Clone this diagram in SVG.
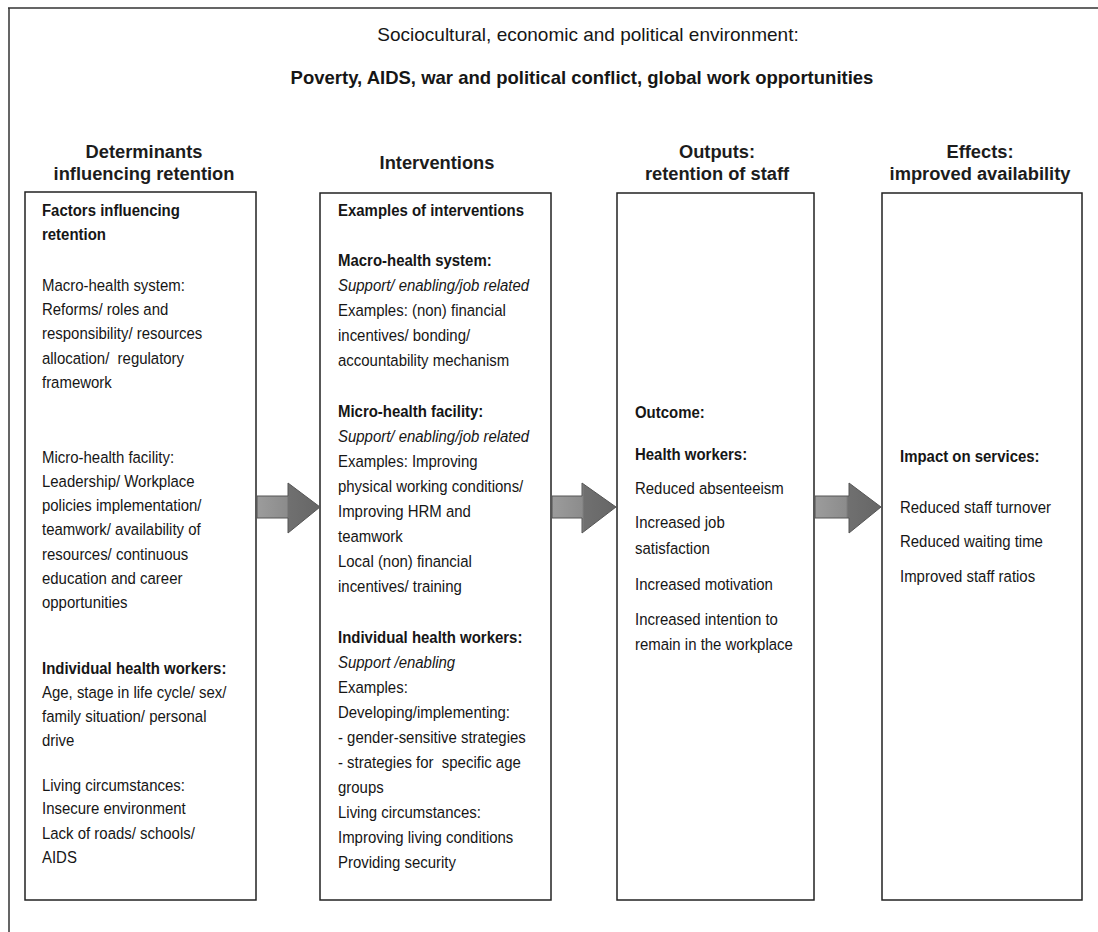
<svg xmlns="http://www.w3.org/2000/svg" width="1098" height="932" viewBox="0 0 1098 932">
<style>
.t{font-family:"Liberation Sans",Arial,sans-serif;font-size:17px;fill:#161616}
.b{font-weight:bold}
.i{font-style:italic}
.h{font-family:"Liberation Sans",Arial,sans-serif;font-size:18.3px;font-weight:bold;text-anchor:middle;fill:#1c1c1c}
.box{fill:none;stroke:#222;stroke-width:1.5}
.frame{fill:none;stroke:#333;stroke-width:1.5}
.arr{fill:url(#ag);stroke:#555;stroke-width:1}
</style>
<defs>
<linearGradient id="ag" x1="0" y1="0" x2="1" y2="0">
<stop offset="0" stop-color="#9c9c9c"/>
<stop offset="0.47" stop-color="#8c8c8c"/>
<stop offset="0.5" stop-color="#707070"/>
<stop offset="1" stop-color="#666"/>
</linearGradient>
</defs>
<rect width="1098" height="932" fill="#fff"/>
<g id="frame">
<path class="frame" d="M8,8 H1098 M9,8 V932"/>
</g>
<g id="environment">
<text class="t" x="588" y="41" style="font-size:19px;text-anchor:middle">Sociocultural, economic and political environment:</text>
<text class="t b" x="582" y="84" style="font-size:18.5px;text-anchor:middle">Poverty, AIDS, war and political conflict, global work opportunities</text>
</g>
<g id="headers">
<text class="h" x="144" y="158">Determinants</text>
<text class="h" x="144" y="180">influencing retention</text>
<text class="h" x="437" y="169">Interventions</text>
<text class="h" x="717" y="158">Outputs:</text>
<text class="h" x="717" y="180">retention of staff</text>
<text class="h" x="980" y="158">Effects:</text>
<text class="h" x="980" y="180">improved availability</text>
</g>
<g id="determinants">
<rect class="box" x="25" y="192" width="231" height="708"/>
<g transform="matrix(0.88,0,0,1,5.04,0)">
<text class="t b" x="42" y="216">Factors influencing</text>
<text class="t b" x="42" y="240">retention</text>
<text class="t" x="42" y="291">Macro-health system:</text>
<text class="t" x="42" y="315">Reforms/ roles and</text>
<text class="t" x="42" y="339">responsibility/ resources</text>
<text class="t" x="42" y="364">allocation/&#160; regulatory</text>
<text class="t" x="42" y="388">framework</text>
<text class="t" x="42" y="463">Micro-health facility:</text>
<text class="t" x="42" y="487">Leadership/ Workplace</text>
<text class="t" x="42" y="511">policies implementation/</text>
<text class="t" x="42" y="535">teamwork/ availability of</text>
<text class="t" x="42" y="560">resources/ continuous</text>
<text class="t" x="42" y="584">education and career</text>
<text class="t" x="42" y="608">opportunities</text>
<text class="t b" x="42" y="674">Individual health workers:</text>
<text class="t" x="42" y="698">Age, stage in life cycle/ sex/</text>
<text class="t" x="42" y="722">family situation/ personal</text>
<text class="t" x="42" y="746">drive</text>
<text class="t" x="42" y="791">Living circumstances:</text>
<text class="t" x="42" y="814">Insecure environment</text>
<text class="t" x="42" y="839">Lack of roads/ schools/</text>
<text class="t" x="42" y="863">AIDS</text>
</g>
</g>
<g id="interventions">
<rect class="box" x="320" y="193" width="231" height="707"/>
<g transform="matrix(0.88,0,0,1,40.56,0)">
<text class="t b" x="338" y="216">Examples of interventions</text>
<text class="t b" x="338" y="266">Macro-health system:</text>
<text class="t i" x="338" y="291">Support/ enabling/job related</text>
<text class="t" x="338" y="316">Examples: (non) financial</text>
<text class="t" x="338" y="341">incentives/ bonding/</text>
<text class="t" x="338" y="366">accountability mechanism</text>
<text class="t b" x="338" y="417">Micro-health facility:</text>
<text class="t i" x="338" y="442">Support/ enabling/job related</text>
<text class="t" x="338" y="467">Examples: Improving</text>
<text class="t" x="338" y="492">physical working conditions/</text>
<text class="t" x="338" y="517">Improving HRM and</text>
<text class="t" x="338" y="542">teamwork</text>
<text class="t" x="338" y="567">Local (non) financial</text>
<text class="t" x="338" y="592">incentives/ training</text>
<text class="t b" x="338" y="643">Individual health workers:</text>
<text class="t i" x="338" y="668">Support /enabling</text>
<text class="t" x="338" y="693">Examples:</text>
<text class="t" x="338" y="718">Developing/implementing:</text>
<text class="t" x="338" y="743">- gender-sensitive strategies</text>
<text class="t" x="338" y="768">- strategies for&#160; specific age</text>
<text class="t" x="338" y="793">groups</text>
<text class="t" x="338" y="818">Living circumstances:</text>
<text class="t" x="338" y="843">Improving living conditions</text>
<text class="t" x="338" y="868">Providing security</text>
</g>
</g>
<g id="outputs">
<rect class="box" x="617" y="193" width="197" height="707"/>
<g transform="matrix(0.88,0,0,1,76.2,0)">
<text class="t b" x="635" y="418">Outcome:</text>
<text class="t b" x="635" y="460">Health workers:</text>
<text class="t" x="635" y="494">Reduced absenteeism</text>
<text class="t" x="635" y="528">Increased job</text>
<text class="t" x="635" y="554">satisfaction</text>
<text class="t" x="635" y="590">Increased motivation</text>
<text class="t" x="635" y="625">Increased intention to</text>
<text class="t" x="635" y="650">remain in the workplace</text>
</g>
</g>
<g id="effects">
<rect class="box" x="882" y="193" width="200" height="707"/>
<g transform="matrix(0.88,0,0,1,108,0)">
<text class="t b" x="900" y="462">Impact on services:</text>
<text class="t" x="900" y="513">Reduced staff turnover</text>
<text class="t" x="900" y="547">Reduced waiting time</text>
<text class="t" x="900" y="582">Improved staff ratios</text>
</g>
</g>
<g id="connectors">
<path class="arr" d="M257,496 L288,496 L288,483 L320,507 L288,533 L288,518 L257,518 Z"/>
<path class="arr" d="M552,496 L582,496 L582,483 L616,507 L582,533 L582,518 L552,518 Z"/>
<path class="arr" d="M815,496 L849,496 L849,483 L881,507 L849,533 L849,518 L815,518 Z"/>
</g>
</svg>
